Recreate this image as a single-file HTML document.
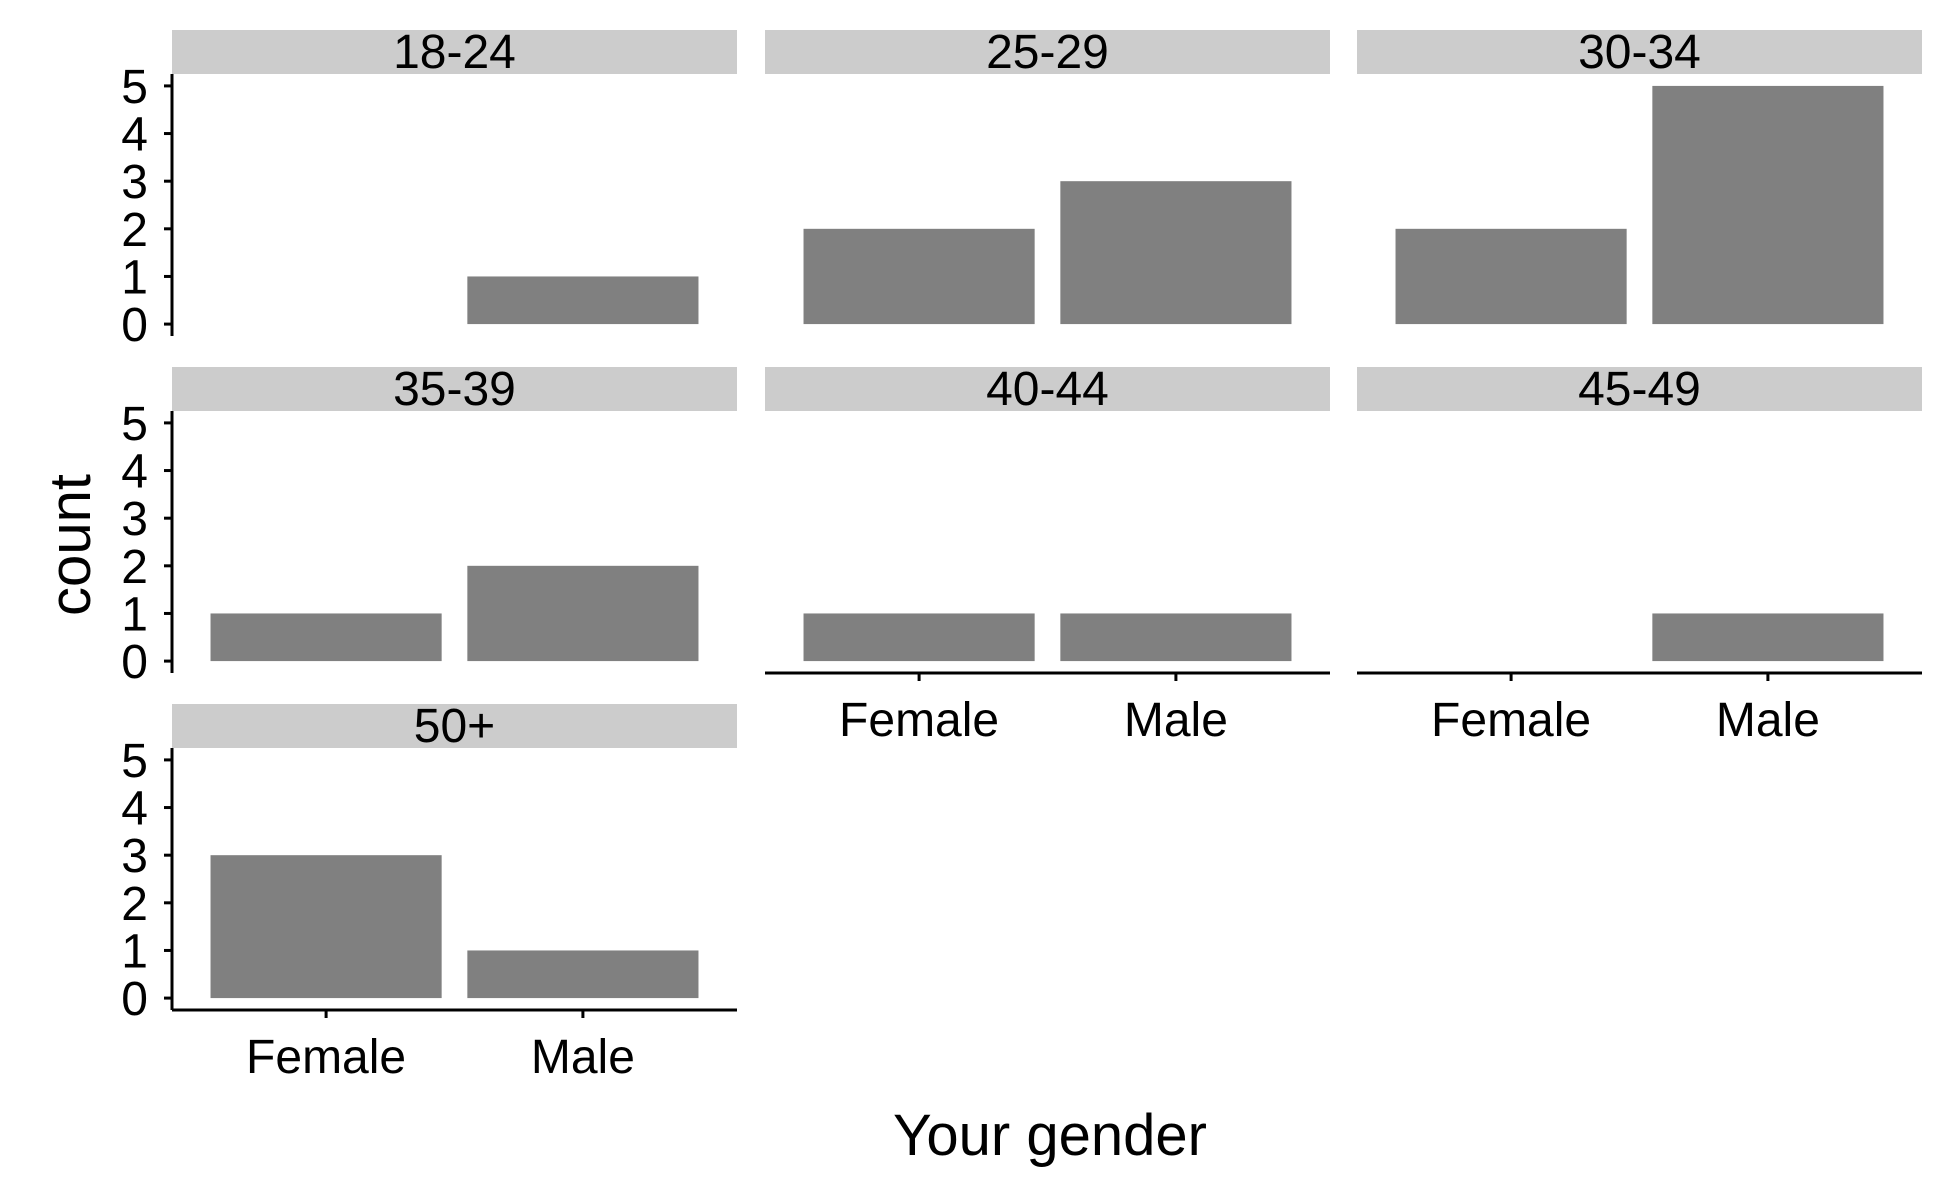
<!DOCTYPE html>
<html><head><meta charset="utf-8"><style>
html,body{margin:0;padding:0;background:#fff;}
svg{display:block;font-family:"Liberation Sans",sans-serif;}
</style></head><body>
<svg id="c" width="1950" height="1200">
<text x="1050" y="1155" font-size="58" text-anchor="middle">Your gender</text>
<text transform="translate(90,545) rotate(-90)" font-size="58" text-anchor="middle">count</text>
</svg>
<script>
const facets=["18-24","25-29","30-34","35-39","40-44","45-49","50+"];
const categories=["Female","Male"];
const femaleCounts=[0,2,2,1,1,0,3];
const maleCounts=[1,3,5,2,1,1,1];
const yTicks=[0,1,2,3,4,5];
const svg=document.getElementById('c');
const NS='http://www.w3.org/2000/svg';
function mk(t,a){const e=document.createElementNS(NS,t);for(const k in a)e.setAttribute(k,a[k]);svg.appendChild(e);return e;}
const colX=[172,765,1357],pw=565;
const rowTop=[30,367,704],stripH=44,ph=262;
const hasX=[false,false,false,false,true,true,true];
facets.forEach((f,i)=>{
  const col=i%3,row=Math.floor(i/3);
  const x0=colX[col],st=rowTop[row],pt=st+stripH,pb=pt+ph;
  const xs=v=>x0+(v-0.4)/2.2*pw;
  const ys=v=>pb-(v+0.25)/5.5*ph;
  const s=mk('rect',{x:x0,y:st,width:pw,height:stripH,fill:'#cccccc'});
  
  
  const t=mk('text',{x:x0+pw/2,y:st+38,'font-size':48,'text-anchor':'middle'});
  t.textContent=f;
  
  
  [femaleCounts[i],maleCounts[i]].forEach((v,j)=>{
    if(v<=0)return;
    const b=mk('rect',{x:xs(j+1)-0.45*pw/2.2,y:ys(v),width:0.9*pw/2.2,height:ys(0)-ys(v),fill:'#808080'});
    
    
  });
  if(col===0){
    const a=mk('line',{x1:x0,y1:pt,x2:x0,y2:pb,stroke:'#000','stroke-width':3});
    
    
    yTicks.forEach(v=>{
      mk('line',{x1:x0-8,y1:ys(v),x2:x0,y2:ys(v),stroke:'#000','stroke-width':3});
      const l=mk('text',{x:x0-24,y:ys(v)+17,'font-size':48,'text-anchor':'end'});
      l.textContent=v;
      
      
    });
  }
  if(hasX[i]){
    const a=mk('line',{x1:x0,y1:pb,x2:x0+pw,y2:pb,stroke:'#000','stroke-width':3});
    
    
    categories.forEach((c,j)=>{
      mk('line',{x1:xs(j+1),y1:pb,x2:xs(j+1),y2:pb+8,stroke:'#000','stroke-width':3});
      const l=mk('text',{x:xs(j+1),y:pb+63,'font-size':48,'text-anchor':'middle'});
      l.textContent=c;
      
      
    });
  }
});
</script>
</body></html>
